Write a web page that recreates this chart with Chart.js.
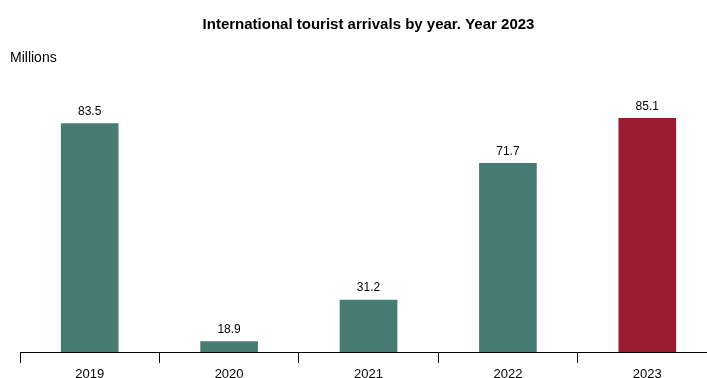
<!DOCTYPE html>
<html lang="en">
<head>
  <meta charset="UTF-8">
  <title>International tourist arrivals by year</title>
  <script src="https://cdn.jsdelivr.net/npm/chart.js"></script>
  <style>
    html, body { margin: 0; padding: 0; background: #fff; overflow: hidden; }
    #wrap { width: 717px; height: 378px; }
  </style>
</head>
<body>
  <div id="wrap"><canvas id="grafico" width="717" height="378"></canvas></div>

  <script>
    const years = ['2019', '2020', '2021', '2022', '2023'];
    const arrivals = [83.5, 18.9, 31.2, 71.7, 85.1];
    const barColors = ['#467c74', '#467c74', '#467c74', '#467c74', '#9b1b31'];

    const FONT = '"Liberation Sans", Arial, Helvetica, sans-serif';

    // title, "Millions" caption and the value above each bar
    const textos = {
      id: 'textos',
      afterDatasetsDraw(chart) {
        const ctx = chart.ctx;
        const area = chart.chartArea;
        ctx.save();
        ctx.fillStyle = '#000';
        ctx.textAlign = 'center';
        ctx.textBaseline = 'middle';
        ctx.font = 'bold 15px ' + FONT;
        ctx.fillText('International tourist arrivals by year. Year 2023', (area.left + area.right) / 2, 25);

        ctx.textAlign = 'left';
        ctx.font = '14px ' + FONT;
        ctx.fillText('Millions', 10, 58);

        ctx.textAlign = 'center';
        ctx.font = '12px ' + FONT;
        chart.getDatasetMeta(0).data.forEach((bar, i) => {
          ctx.fillText(arrivals[i].toFixed(1), bar.x, bar.y - 12);
        });
        ctx.restore();
      }
    };

    new Chart(document.getElementById('grafico'), {
      type: 'bar',
      data: {
        labels: years,
        datasets: [{
          data: arrivals,
          backgroundColor: barColors,
          barThickness: 57
        }]
      },
      options: {
        responsive: false,
        animation: false,
        layout: { padding: { left: 20, right: 0, top: 68, bottom: 0 } },
        plugins: {
          legend: { display: false },
          tooltip: { enabled: false }
        },
        scales: {
          x: {
            offset: true,
            grid: {
              offset: true,
              drawOnChartArea: false,
              drawTicks: true,
              tickLength: 11,
              color: '#000',
              lineWidth: 1
            },
            border: { display: true, color: '#000', width: 1 },
            ticks: {
              color: '#000',
              padding: 4,
              font: { family: FONT, size: 13 }
            },
            afterFit(scale) { scale.height = 26; }
          },
          y: {
            display: false,
            min: 15.8,
            max: 100
          }
        }
      },
      plugins: [textos]
    });
  </script>
</body>
</html>
